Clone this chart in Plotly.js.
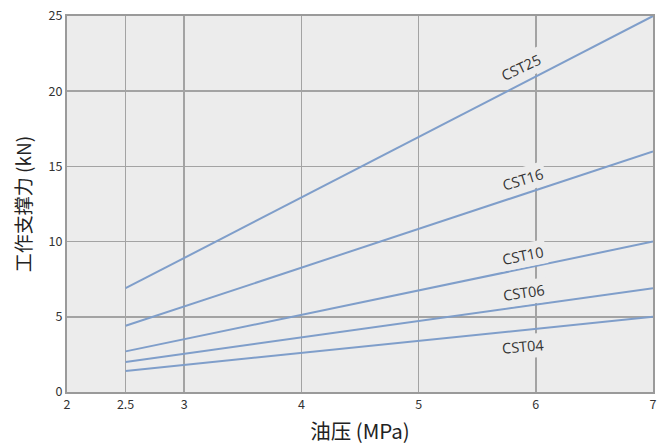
<!DOCTYPE html>
<html><head><meta charset="utf-8">
<script src="https://cdn.plot.ly/plotly-3.0.1.min.js"></script>
<style>html,body{margin:0;padding:0;background:#fff}</style>
</head><body>
<div id="chart" style="width:670px;height:446px"></div>
<script>
const models = ["CST25","CST16","CST10","CST06","CST04"];
const pressure = [2.5, 7];
const force25 = [6.9, 25];
const force16 = [4.4, 16];
const force10 = [2.7, 10];
const force06 = [2.0, 6.9];
const force04 = [1.4, 5.0];
const labelX = [5.87, 5.89, 5.89, 5.9, 5.89];
const labelY = [21.6, 14.15, 9.1, 6.6, 3.05];
const labelAngle = [-25, -17, -11, -8, -5];
const xTicks = [2, 2.5, 3, 4, 5, 6, 7];
const yTicks = [0, 5, 10, 15, 20, 25];

const series = [force25, force16, force10, force06, force04];
const lineColor = "rgb(127,158,202)";
const traces = series.map((s, i) => ({
  x: pressure, y: s, mode: "lines", name: models[i],
  line: {color: lineColor, width: 2}, hoverinfo: "skip"
}));
const annotations = models.map((m, i) => ({
  x: labelX[i], y: labelY[i], xref: "x", yref: "y", text: m,
  showarrow: false, textangle: labelAngle[i],
  font: {family: "Open Sans, Noto Sans, sans-serif", size: 14.5, color: "#333"},
  bgcolor: "#ececec", borderpad: 2
}));
const font = "Noto Sans CJK SC, Noto Sans, sans-serif";
Plotly.newPlot("chart", traces, {
  width: 670, height: 446,
  margin: {l: 67, r: 17, t: 16, b: 54},
  paper_bgcolor: "#fff", plot_bgcolor: "#ececec",
  showlegend: false,
  font: {family: font, color: "#333"},
  xaxis: {range: [2, 7], tickvals: xTicks, ticktext: xTicks.map(String),
    showgrid: true, gridcolor: "#a3a3a3", gridwidth: 1.5, zeroline: false,
    showline: true, linecolor: "#9a9a9a", linewidth: 2, mirror: true,
    ticks: "", tickfont: {size: 12.5, color: "#333"},
    title: {text: "油压 (MPa)", font: {size: 20.5, color: "#222"}, standoff: 13}},
  yaxis: {range: [0, 25], tickvals: yTicks,
    showgrid: true, gridcolor: "#a3a3a3", gridwidth: 1.5, zeroline: false,
    showline: true, linecolor: "#9a9a9a", linewidth: 2, mirror: true,
    ticks: "", tickfont: {size: 12.5, color: "#333"},
    title: {text: "工作支撑力 (kN)", font: {size: 19, color: "#222"}, standoff: 12}},
  annotations: annotations
}, {displayModeBar: false, staticPlot: true});
</script>
</body></html>
